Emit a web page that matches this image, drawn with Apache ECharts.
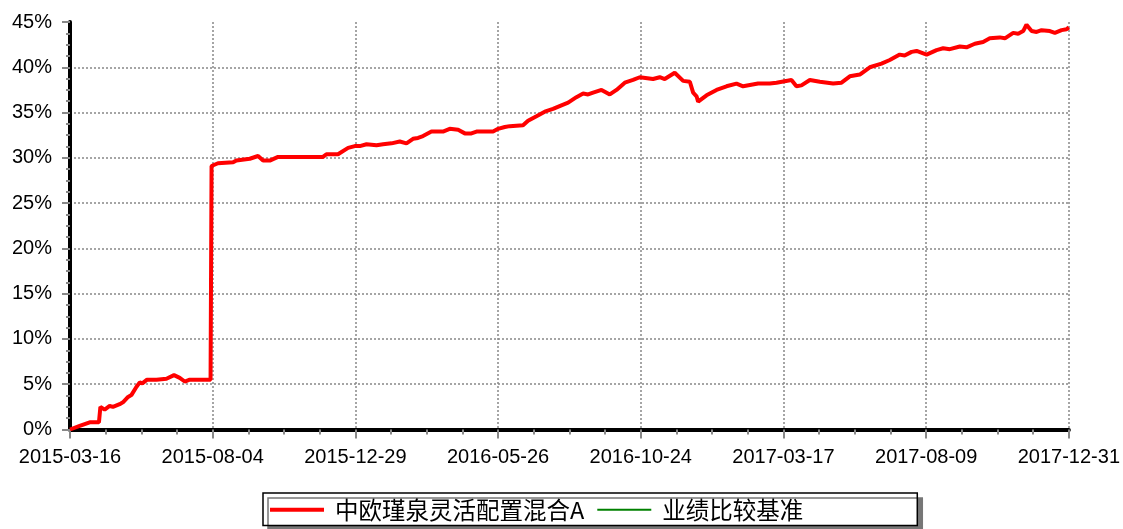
<!DOCTYPE html>
<html>
<head>
<meta charset="utf-8">
<script src="https://cdn.jsdelivr.net/npm/echarts@6/dist/echarts.min.js"></script>
<style>
html,body{margin:0;padding:0;background:#fff;}
#chart{width:1123px;height:529px;}
</style>
</head>
<body>
<div id="chart"></div>
<script>
// X tick labels (evenly spaced positions 0..7)
var dateLabels = ['2015-03-16','2015-08-04','2015-12-29','2016-05-26','2016-10-24','2017-03-17','2017-08-09','2017-12-31'];
var seriesNames = ['中欧瑾泉灵活配置混合A','业绩比较基准'];
// x position (in label-interval units), cumulative return %
var fundX = [0,0.068,0.138,0.203,0.213,0.243,0.278,0.301,0.348,0.371,0.407,0.430,0.465,0.489,0.507,0.540,0.606,0.676,0.729,0.769,0.804,0.839,0.985,
  0.992,1.037,1.143,1.166,1.260,1.318,1.353,1.400,1.458,1.610,1.773,1.797,1.878,1.949,1.996,2.031,2.078,2.148,2.194,2.253,2.311,2.358,2.404,2.439,
  2.474,2.533,2.614,2.661,2.720,2.767,2.813,2.849,2.965,3.000,3.047,3.082,3.175,3.210,3.269,3.327,3.385,3.444,3.491,3.549,3.596,3.631,3.666,3.725,3.783,3.830,3.888,3.946,3.993,
  4.086,4.133,4.168,4.238,4.297,4.344,4.367,4.391,4.402,4.461,4.531,4.601,4.671,4.717,4.822,4.904,4.951,5.056,5.091,5.126,5.185,5.255,5.348,5.407,5.465,5.535,
  5.605,5.687,5.745,5.815,5.849,5.898,5.933,6.003,6.073,6.119,6.166,6.236,6.283,6.341,6.399,6.446,6.516,6.552,6.610,6.645,6.680,6.703,6.739,6.774,6.809,6.867,6.902,6.949,6.984,7.0];
var fundY = [0,0.4,0.8,0.8,2.5,2.2,2.6,2.5,2.8,3.0,3.6,3.8,4.7,5.2,5.1,5.5,5.5,5.6,6.0,5.7,5.3,5.5,5.5,
  29.1,29.4,29.5,29.7,29.9,30.2,29.7,29.7,30.1,30.1,30.1,30.4,30.4,31.1,31.3,31.3,31.5,31.4,31.5,31.6,31.8,31.6,32.1,32.2,
  32.4,32.9,32.9,33.2,33.1,32.7,32.7,32.9,32.9,33.2,33.4,33.5,33.6,34.1,34.6,35.1,35.4,35.8,36.1,36.7,37.1,37.0,37.2,37.5,37.0,37.5,38.3,38.6,38.9,
  38.7,38.9,38.7,39.4,38.5,38.4,37.2,36.8,36.2,36.9,37.5,37.9,38.2,37.9,38.2,38.2,38.3,38.6,37.9,38.0,38.6,38.4,38.2,38.3,39.0,39.2,
  40.0,40.4,40.8,41.4,41.3,41.7,41.8,41.4,41.9,42.1,42.0,42.3,42.2,42.6,42.8,43.2,43.3,43.2,43.8,43.7,44.0,44.7,44.0,43.9,44.1,44.0,43.8,44.1,44.2,44.4];
var benchY = [];

var fundData = fundX.map(function(x,i){return [x, fundY[i]];});
var benchData = benchY.map(function(v,i){return [i, v];});

var chart = echarts.init(document.getElementById('chart'), null, {renderer:'canvas'});
chart.setOption({
  animation:false,
  backgroundColor:'#fff',
  textStyle:{fontFamily:'Liberation Sans, Arial, sans-serif'},
  grid:{left:70, right:54, top:22, bottom:99.5, containLabel:false},
  xAxis:{
    type:'value', min:0, max:7, interval:1, offset:3,
    axisLine:{show:true, lineStyle:{color:'#000', width:4}},
    axisTick:{show:true, length:9, lineStyle:{color:'#888', width:2}},
    minorTick:{show:true, splitNumber:4, length:5, lineStyle:{color:'#888', width:2}},
    axisLabel:{margin:15, fontSize:20, color:'#000', fontFamily:'Liberation Sans, Arial, sans-serif',
      formatter:function(v){return dateLabels[Math.round(v)] || '';}},
    splitLine:{show:true, showMinLine:true, showMaxLine:true, lineStyle:{color:'#888', width:1.5, type:[2,2]}}
  },
  yAxis:{
    type:'value', min:0, max:45, interval:5, offset:4,
    axisLine:{show:true, lineStyle:{color:'#000', width:4}},
    axisTick:{show:true, length:8, lineStyle:{color:'#888', width:2}},
    minorTick:{show:true, splitNumber:4, length:4, lineStyle:{color:'#888', width:2}},
    axisLabel:{margin:14, fontSize:20, color:'#000', fontFamily:'Liberation Sans, Arial, sans-serif', formatter:'{value}%'},
    splitLine:{show:true, showMinLine:true, showMaxLine:false, lineStyle:{color:'#888', width:1.5, type:[2,2]}}
  },
  legend:{
    left:263, top:493,
    data:[
      {name:seriesNames[0], icon:'path://M0,0H54V4H0Z'},
      {name:seriesNames[1], icon:'path://M0,0H54V2H0Z'}
    ],
    orient:'horizontal',
    itemWidth:54, itemHeight:14, itemGap:13,
    padding:[5,114,4,7],
    borderColor:'#000', borderWidth:1.5,
    backgroundColor:'#fff',
    shadowColor:'#777', shadowBlur:0, shadowOffsetX:5, shadowOffsetY:5,
    textStyle:{fontSize:23.5, color:'#000', fontFamily:'Noto Sans CJK SC, sans-serif', padding:[0,0,0,6]}
  },
  series:[
    {name:seriesNames[0], type:'line', data:fundData, symbol:'none', showSymbol:false,
      lineStyle:{color:'#ff0000', width:4}, itemStyle:{color:'#ff0000'}, z:5},
    {name:seriesNames[1], type:'line', data:benchData, symbol:'none', showSymbol:false,
      lineStyle:{color:'#008000', width:2}, itemStyle:{color:'#008000'}}
  ]
});
</script>
</body>
</html>
